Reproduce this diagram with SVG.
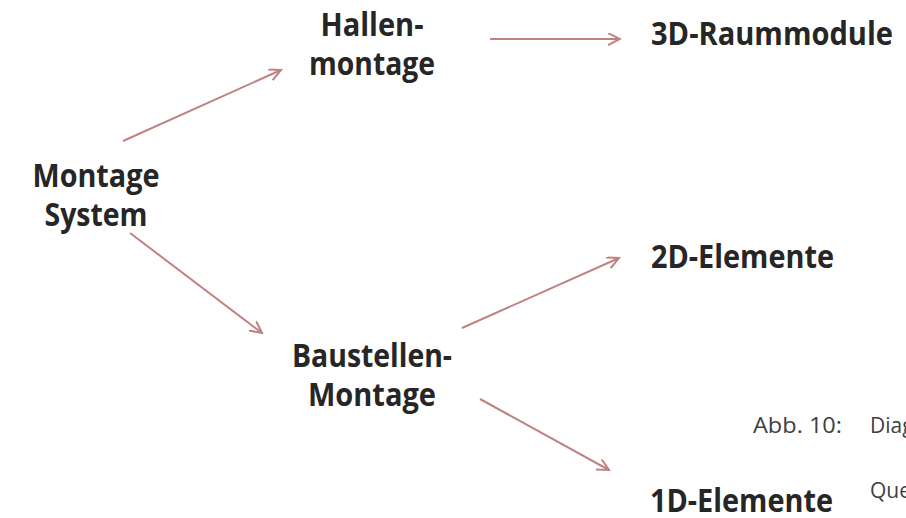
<svg xmlns="http://www.w3.org/2000/svg" width="906" height="518" viewBox="0 0 906 518">
<style>
.n{font-family:"Open Sans","Liberation Sans",sans-serif;font-weight:bold;font-size:32px;fill:#262626;text-anchor:middle}
.l{font-family:"Open Sans","Liberation Sans",sans-serif;font-weight:bold;font-size:32px;fill:#262626}
.c{font-family:"Open Sans","Liberation Sans",sans-serif;font-size:21px;fill:#404040}
.a{stroke:#c08282;stroke-width:2;fill:none;marker-end:url(#ah)}
</style>
<defs>
<marker id="ah" markerWidth="14" markerHeight="14" refX="12" refY="6" orient="auto" markerUnits="userSpaceOnUse">
<path d="M0,0 L12,6 L0,12" fill="none" stroke="#c08282" stroke-width="2"/>
</marker>
</defs>
<rect width="906" height="518" fill="#fff"/>
<g id="connectors">
<line class="a" x1="123" y1="141" x2="281" y2="70"/>
<line class="a" x1="490" y1="39" x2="620" y2="39"/>
<line class="a" x1="130" y1="233" x2="262" y2="333"/>
<line class="a" x1="462" y1="328" x2="619" y2="258"/>
<line class="a" x1="480" y1="399" x2="609" y2="470"/>
</g>
<g id="montage-system">
<text class="n" x="96" y="187" textLength="127" lengthAdjust="spacingAndGlyphs">Montage</text>
<text class="n" x="96" y="226" textLength="103" lengthAdjust="spacingAndGlyphs">System</text>
</g>
<g id="hallenmontage">
<text class="n" x="372" y="36" textLength="103" lengthAdjust="spacingAndGlyphs">Hallen-</text>
<text class="n" x="372" y="75" textLength="126" lengthAdjust="spacingAndGlyphs">montage</text>
</g>
<g id="baustellenmontage">
<text class="n" x="372" y="367" textLength="160" lengthAdjust="spacingAndGlyphs">Baustellen-</text>
<text class="n" x="372" y="406" textLength="128" lengthAdjust="spacingAndGlyphs">Montage</text>
</g>
<g id="raummodule">
<text class="l" x="651" y="45" textLength="242" lengthAdjust="spacingAndGlyphs">3D-Raummodule</text>
</g>
<g id="elemente2d">
<text class="l" x="651" y="268" textLength="183" lengthAdjust="spacingAndGlyphs">2D-Elemente</text>
</g>
<g id="elemente1d">
<text class="l" x="650" y="512" textLength="183" lengthAdjust="spacingAndGlyphs">1D-Elemente</text>
</g>
<g id="caption">
<text class="c" x="753" y="433" textLength="89" lengthAdjust="spacingAndGlyphs">Abb. 10:</text>
<text class="c" x="870" y="433">Diagramm</text>
<text class="c" x="870" y="498">Quelle</text>
</g>
</svg>
